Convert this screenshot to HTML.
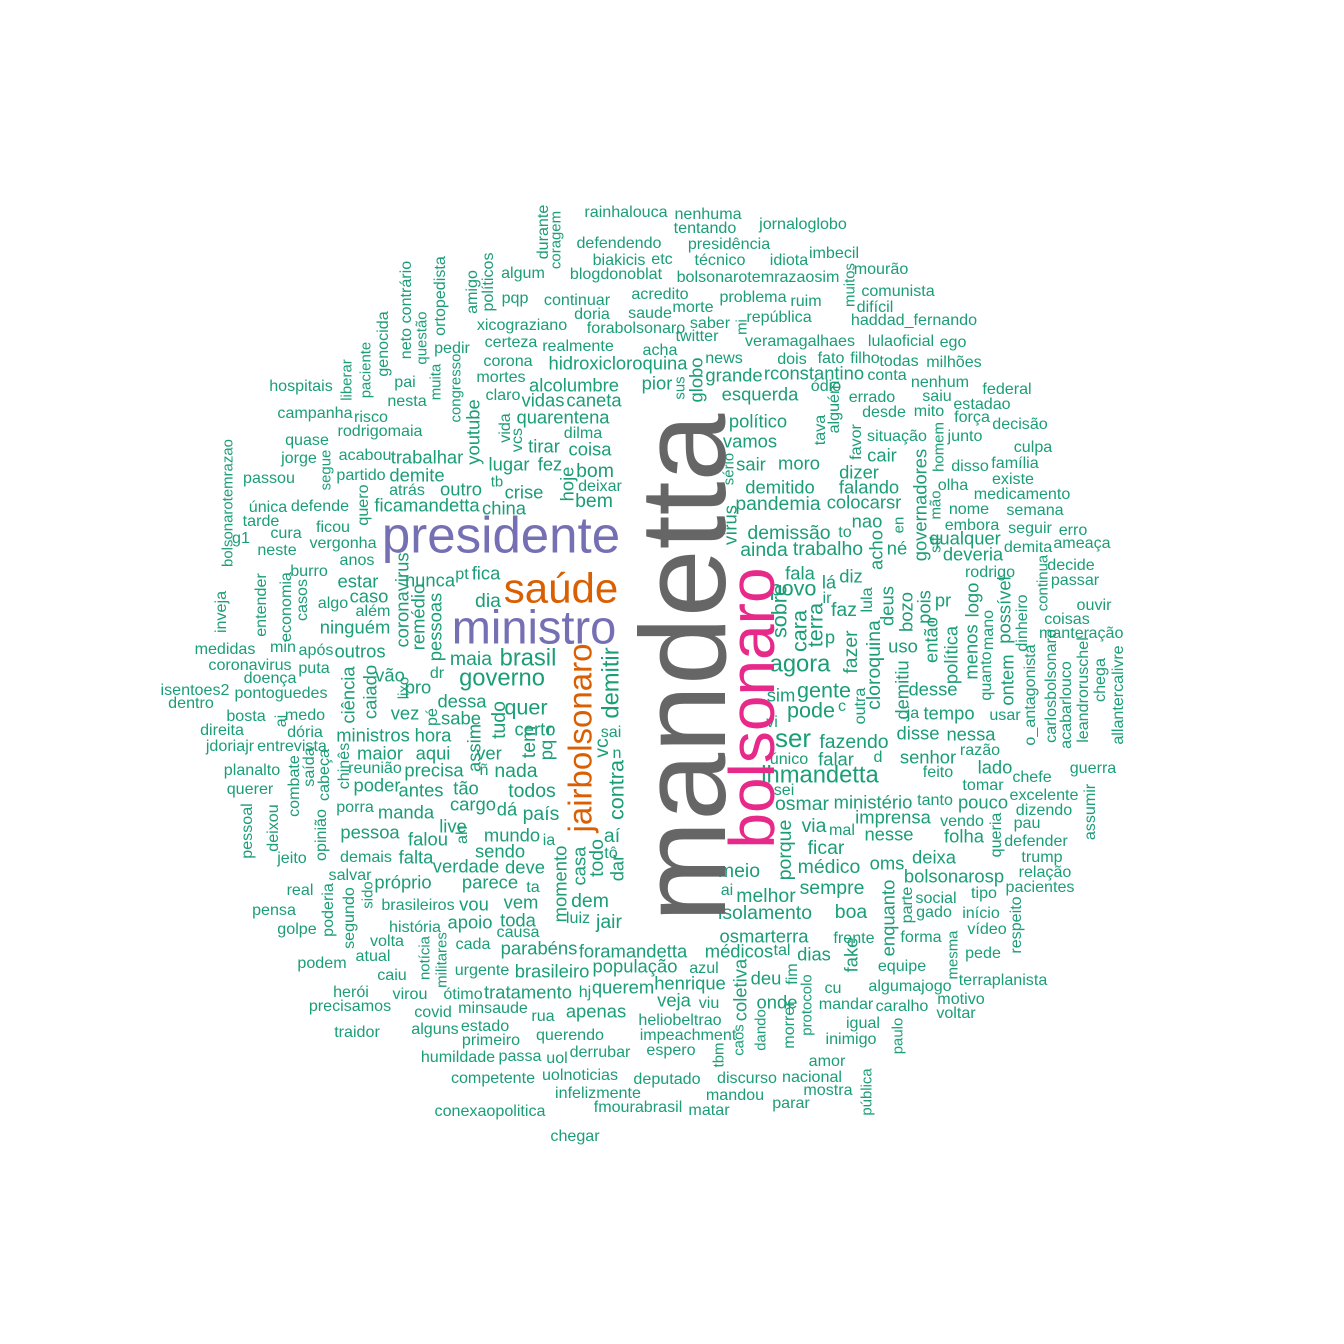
<!DOCTYPE html>
<html><head><meta charset="utf-8">
<style>html,body{margin:0;padding:0;background:#fff}svg{display:block}text{font-family:"Liberation Sans",Arial,sans-serif}</style>
</head><body>
<svg id="cloud" width="1344" height="1344" viewBox="0 0 1344 1344" xmlns="http://www.w3.org/2000/svg"></svg>
<script>
const bigWords=["mandetta","bolsonaro","presidente","ministro","saúde","jairbolsonaro"];
const bigX=[683,752,501,534,561,580];
const bigY=[668,708,535,627,588,738];
const bigSize=[122,64,51,47,42,33];
const bigRot=[1,1,0,0,0,1];
const bigColor=["#666666","#e7298a","#7570b3","#7570b3","#d95f02","#d95f02"];
const words=`rainhalouca,626,212,14
nenhuma,708,214,14
jornaloglobo,803,224,14
tentando,705,228,14
durante,543,232,14,v
coragem,556,240,13,v
defendendo,619,243,14
presidência,729,244,14
biakicis,619,260,14
etc,662,259,14
técnico,720,260,14
idiota,789,260,14
imbecil,834,253,14
mourão,881,269,14
algum,523,273,14
blogdonoblat,616,274,14
bolsonarotemrazaosim,758,277,14
políticos,488,282,14,v
amigo,472,292,14,v
comunista,898,291,14
muitos,850,285,13,v
pqp,515,298,14
continuar,577,300,14
acredito,660,294,14
problema,753,297,14
ruim,806,301,14
morte,693,307,14
difícil,875,307,14
ortopedista,440,296,14,v
saude,650,313,14
república,779,317,14
haddad_fernando,914,320,14
xicograziano,522,325,14
doria,592,314,14
forabolsonaro,636,328,14
saber,710,323,14
mi,742,327,13,v
neto contrário,406,310,14,v
questão,422,338,13,v
genocida,383,344,14,v
twitter,697,336,14
certeza,511,342,14
realmente,578,346,14
veramagalhaes,800,341,14
lulaoficial,901,341,14
ego,953,342,14
pedir,452,348,14
acha,660,350,14
corona,508,361,14
news,724,358,14
dois,792,359,14
fato,831,358,14
filho,865,358,14
todas,899,361,14
milhões,954,362,14
hidroxicloroquina,618,363,16
paciente,366,370,13,v
liberar,347,380,13,v
pai,405,382,14
muita,436,382,13,v
congresso,456,388,13,v
hospitais,301,386,14
mortes,501,377,14
grande,734,375,16
rconstantino,814,373,16
conta,887,375,14
alcolumbre,574,385,16
pior,657,383,16
sus,680,388,13,v
globo,696,380,16,v
nenhum,940,382,14
ódio,826,386,14
federal,1007,389,14
nesta,407,401,14
claro,503,395,14
vidas,543,400,16
caneta,594,400,16
esquerda,760,394,16
errado,872,397,14
saiu,937,396,14
campanha,315,413,14
risco,371,417,14
estadao,982,404,14
desde,884,412,14
mito,929,411,14
força,972,417,14
quarentena,563,417,16
alguém,834,407,14,v
vida,505,428,14,v
decisão,1020,424,14
político,758,421,16
rodrigomaia,380,431,14
youtube,473,432,16,v
vcs,517,440,14,v
dilma,583,433,14
tava,820,430,14,v
situação,897,436,14
junto,965,436,14
quase,307,440,14
favor,856,442,14,v
bolsonarotemrazao,228,503,13,v
culpa,1033,447,14
tirar,544,446,16
coisa,590,449,16
vamos,750,441,16
homem,939,447,13,v
jorge,299,458,14
acabou,365,455,14
trabalhar,427,457,16
cair,882,455,16
família,1015,463,14
segue,326,470,13,v
lugar,509,464,16
fez,550,464,16
sair,751,464,16
moro,799,463,16
sério,729,469,13,v
disso,970,466,14
passou,269,478,14
partido,361,475,14
demite,417,475,16
bom,595,471,18
dizer,859,472,16
existe,1013,479,14
tb,497,482,13
deixar,600,486,14
hoje,567,484,16,v
demitido,780,487,16
falando,869,487,16
olha,953,485,14
medicamento,1022,494,14
atrás,407,490,14
outro,461,489,16
crise,524,492,16
quero,363,505,14,v
única,268,507,14
defende,320,506,14
ficamandetta,427,505,16
bem,594,501,18
pandemia,778,504,18
colocarsr,864,502,16
mão,936,505,13,v
nome,969,509,14
semana,1035,510,14
china,504,508,16
vírus,730,525,16,v
tarde,261,521,14
ficou,333,527,14
nao,867,521,16
embora,972,525,14
seguir,1030,528,14
erro,1073,530,14
cura,286,533,14
g1,241,538,14
demissão,789,533,18
to,845,532,14
en,899,525,13,v
qualquer,965,538,16
vergonha,343,543,14
ameaça,1082,543,14
neste,277,550,14
ainda,764,550,18
trabalho,828,549,18
acho,876,550,16,v
né,897,548,16
stf,936,545,13,v
demita,1028,547,14
anos,357,560,14
governadores,920,505,16,v
deveria,973,554,16
burro,309,571,14
nunca,430,580,16
pt,462,574,14
fica,486,573,16
fala,800,573,16
diz,851,576,16
decide,1071,565,14
rodrigo,990,572,14
continua,1043,583,13,v
estar,358,581,16
povo,793,588,20
lá,829,582,16
passar,1075,580,14
dia,488,601,18
caso,369,596,16
coronavirus,402,600,16,v
algo,333,603,14
além,373,611,14
pessoas,435,627,16,v
remédio,418,617,16,v
economia,286,607,14,v
casos,302,600,14,v
entender,261,605,14,v
inveja,221,612,14,v
ir,827,598,14
faz,844,610,18
lula,867,600,14,v
deus,887,606,16,v
bozo,906,612,16,v
pois,924,607,16,v
pr,943,600,16
logo,972,600,16,v
possível,1004,610,16,v
dinheiro,1022,623,14,v
coisas,1067,619,14
ouvir,1094,605,14
sobre,779,611,20,v
cara,799,631,20,v
terra,815,625,20,v
ninguém,355,627,16
manter,1064,633,14
mano,988,630,14,v
ação,1106,633,14
menos,971,652,16,v
p,830,637,16
fazer,851,652,18,v
cloroquina,874,665,18,v
então,931,640,16,v
outros,360,651,16
após,316,650,14
min,283,647,14
medidas,225,649,14
maia,471,659,18
brasil,528,658,22
agora,800,664,22
uso,903,646,16
política,951,655,16,v
carlosbolsonaro,1051,686,14,v
quanto,986,676,14,v
ontem,1007,680,16,v
o_antagonista,1030,695,14,v
leandroruschel,1083,690,14,v
chega,1100,680,14,v
allantercalivre,1118,695,14,v
acabarlouco,1066,705,14,v
coronavirus,250,665,14
puta,314,668,14
vão,390,675,16
dr,437,673,14
governo,502,678,22
doença,270,678,14
lixo,404,688,13,v
pro,418,687,16
gente,824,690,20
demitiu,902,690,16,v
desse,933,689,16
isentoes2,195,690,14
pontoguedes,281,693,14
ciência,348,695,16,v
caiado,370,692,16,v
dessa,462,701,16
sim,781,695,16
pode,811,710,20
dentro,191,703,14
quer,526,707,20
tudo,499,720,18,v
medo,305,715,14
bosta,246,716,14
vez,405,713,16
sabe,461,718,16
pé,432,717,14,v
c,842,706,14
outra,860,706,14,v
ja,913,713,14
tempo,949,713,16
usar,1005,715,14
ministros,373,735,16
hora,433,735,16
tem,529,742,18,v
certo,535,729,16
direita,222,730,14
ai,281,721,14,v
dória,305,732,14
sai,611,732,14
vi,772,722,14
disse,918,733,16
nessa,971,734,16
ser,793,739,24
jdoriajr,230,746,14
entrevista,292,746,14
r,549,730,14
pq,546,750,16,v
assim,474,748,16,v
demitir,611,683,22,v
vc,602,748,18,v
n,617,753,14
maior,380,753,16
aqui,433,753,16
ver,489,753,16
fazendo,854,742,18
razão,980,750,14
reunião,375,768,14
chinês,344,766,14,v
saída,309,767,14,v
cabeça,324,775,14,v
combate,294,786,14,v
planalto,252,770,14
precisa,434,770,16
ñ,484,770,14
nada,516,771,18
contra,616,790,20,v
único,789,759,14
falar,836,759,16
d,878,757,14
senhor,928,757,16
lado,995,767,16
guerra,1093,768,14
lhmandetta,820,775,22
feito,938,772,14
querer,250,789,14
poder,377,785,16
antes,421,790,16
tão,466,788,16
todos,532,791,18
tomar,983,785,14
chefe,1032,777,14
excelente,1044,795,14
sei,784,790,14
osmar,802,804,18
ministério,873,802,16
tanto,935,800,14
pouco,983,802,16
dizendo,1044,810,14
porra,355,807,14
cargo,473,804,16
dá,507,809,16
país,541,814,18
manda,406,812,16
imprensa,893,817,16
assumir,1090,812,14,v
pessoal,247,831,14,v
deixou,273,828,14,v
opinião,321,835,14,v
live,453,826,16
via,814,826,18
mal,842,830,14
vendo,962,821,14
pau,1027,823,14
pessoa,370,832,16
falou,428,839,16
mundo,512,835,16
ah,462,835,14,v
ia,549,840,14
aí,612,836,18
porque,785,850,18,v
nesse,889,834,16
folha,964,836,16
queria,996,835,14,v
defender,1036,841,14
sendo,500,851,16
ficar,826,848,18
tô,611,853,14
demais,366,857,14
falta,416,857,16
jeito,292,858,14
todo,597,858,18,v
dar,617,868,16,v
momento,560,884,16,v
casa,579,866,16,v
oms,887,863,16
deixa,934,857,16
trump,1042,857,14
verdade,466,866,16
deve,525,867,16
meio,739,871,18
médico,829,867,18
salvar,350,875,14
próprio,403,882,16
parece,490,882,16
relação,1045,872,14
bolsonarosp,954,876,16
ta,533,887,14
sempre,832,888,18
ai,727,890,14
real,300,890,14
sido,368,895,13,v
segundo,349,918,14,v
poderia,328,910,14,v
melhor,766,896,18
enquanto,888,918,16,v
social,936,898,14
tipo,984,893,14
pacientes,1040,887,14
brasileiros,418,905,14
vou,474,904,16
vem,521,902,16
dem,590,901,18
pensa,274,910,14
isolamento,765,913,18
boa,851,912,18
parte,907,905,14,v
gado,934,912,14
início,981,913,14
apoio,470,922,16
toda,518,920,16
luiz,578,918,14
jair,609,922,18
história,415,927,14
vídeo,987,929,14
respeito,1016,925,14,v
golpe,297,929,14
causa,518,932,14
osmarterra,764,936,16
frente,854,938,14
forma,921,937,14
volta,387,941,14
cada,473,944,14
parabéns,539,948,16
foramandetta,633,951,16
médicos,739,951,16
tal,782,950,14
dias,814,954,16
fake,851,955,16,v
mesma,953,955,13,v
pede,983,953,14
notícia,425,958,13,v
militares,442,960,13,v
atual,373,956,14
podem,322,963,14
urgente,482,970,14
brasileiro,552,971,16
população,635,966,16
azul,704,968,14
deu,766,978,16
fim,792,974,14,v
equipe,902,966,14
caiu,392,975,14
coletiva,740,990,16,v
cu,833,988,14
algumajogo,910,986,14
terraplanista,1003,980,14
herói,351,992,14
virou,410,994,14
ótimo,463,994,14
tratamento,528,992,16
hj,585,992,14
querem,623,987,16
henrique,690,983,16
precisamos,350,1006,14
minsaude,493,1008,14
apenas,596,1011,16
veja,674,1000,16
viu,709,1003,14
onde,777,1002,16
protocolo,807,1005,13,v
mandar,846,1004,14
caralho,902,1006,14
motivo,961,999,14
covid,433,1012,14
rua,543,1016,14
heliobeltrao,680,1020,14
voltar,956,1013,14
traidor,357,1032,14
alguns,435,1029,14
estado,485,1026,14
dando,761,1030,13,v
morrer,789,1025,14,v
igual,863,1023,14
paulo,898,1036,13,v
primeiro,491,1040,14
querendo,570,1035,14
impeachment,688,1035,14
caos,739,1040,13,v
inimigo,851,1039,14
humildade,458,1057,14
passa,520,1056,14
derrubar,600,1052,14
espero,671,1050,14
uol,557,1058,14
tbm,719,1055,13,v
amor,827,1061,14
competente,493,1078,14
uolnoticias,580,1075,14
deputado,667,1079,14
discurso,747,1078,14
nacional,812,1077,14
pública,867,1092,13,v
infelizmente,598,1093,14
mandou,735,1095,14
mostra,828,1090,14
fmourabrasil,638,1107,14
matar,709,1110,14
parar,791,1103,14
conexaopolitica,490,1111,14
chegar,575,1136,14`.split("\n").map(l=>l.split(","));
const svg=document.getElementById('cloud');
const NS="http://www.w3.org/2000/svg";
function put(w,x,y,fs,rot,color,name){
  const t=document.createElementNS(NS,'text');
  
  
  t.setAttribute('x',x);t.setAttribute('y',y);
  t.setAttribute('font-size',fs);
  t.setAttribute('fill',color);
  t.setAttribute('text-anchor','middle');
  t.setAttribute('dominant-baseline','central');
  if(rot) t.setAttribute('transform','rotate(-90 '+x+' '+y+')');
  t.textContent=w;svg.appendChild(t);
}
words.forEach(a=>{const s=+a[3];put(a[0],+a[1],+a[2],s>=18?s*1.08:s*1.15,a[4]==='v','#1b9e77','word-'+a[0].replace(/[^a-z0-9]+/gi,'-'));});
bigWords.forEach((w,i)=>{put(w,bigX[i],bigY[i],bigSize[i],bigRot[i],bigColor[i],'word-'+w.replace(/[^a-z0-9]+/gi,'-'));});
</script>
</body></html>
